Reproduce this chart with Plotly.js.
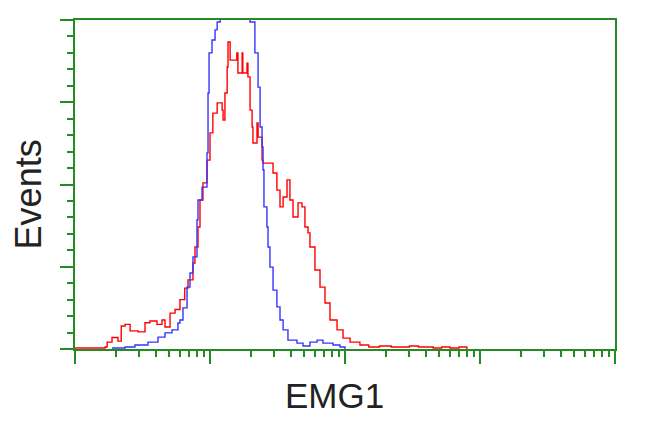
<!DOCTYPE html>
<html>
<head>
<meta charset="utf-8">
<script src="https://cdn.plot.ly/plotly-3.0.1.min.js"></script>
<style>html,body{margin:0;padding:0;background:#fff}#chart{width:650px;height:431px}</style>
</head>
<body>
<div id="chart"></div>
<script>
// Red histogram (EMG1 stained sample)
const redX = [1, 1.3, 1.67, 1.73, 1.88, 2.08, 2.2, 2.35, 2.56, 2.93, 3.3, 3.59, 4.05, 4.41, 4.64, 5.06, 5.51, 5.99, 6.5, 6.87, 7.48, 7.74, 8.15, 8.43, 8.87, 9.5, 10, 10.5, 11.3, 12.3, 12.5, 12.9, 13.4, 13.6, 14.1, 14.8, 15.8, 16.1, 17.3, 17.5, 18.8, 19.1, 19.8, 20.5, 20.8, 22.3, 22.7, 24.3, 24.7, 26.9, 29.3, 31.3, 33.0, 34.8, 37.2, 39.1, 41.2, 44.9, 48.0, 50.5, 53.2, 55.0, 59.9, 65.3, 71.1, 77.4, 87.3, 96.7, 109, 129, 150, 180, 220, 260, 300, 350, 400, 450, 520, 600, 700, 800];
const redY = [0.3, 0.3, 0.6, 2.1, 3.5, 2.4, 7.0, 7.5, 5.5, 5.2, 8.0, 8.5, 7.5, 8.8, 6.7, 10.9, 12.0, 15.0, 18.5, 21.0, 26.1, 31.0, 37.1, 45.3, 50.5, 57.4, 65.7, 71.7, 74.8, 72.6, 69.6, 77.8, 85.7, 93.3, 87.8, 87.8, 90.0, 83.9, 90.0, 83.9, 86.9, 82.7, 72.6, 67.5, 62.6, 68.7, 64.4, 57.4, 56.5, 56.5, 53.5, 48.3, 43.2, 46.2, 51.4, 45.3, 40.1, 44.4, 43.2, 37.1, 35.3, 31.0, 24.0, 18.8, 14.0, 8.8, 5.8, 3.3, 2.1, 1.2, 0.6, 0.9, 0.6, 0.6, 0.9, 0.6, 0.6, 0.3, 0.6, 0.3, 0.6, 0];

// Blue histogram (isotype control)
const blueX = [1.88, 2.35, 2.78, 3.47, 4.12, 4.64, 5.23, 5.79, 5.99, 6.31, 6.76, 7.11, 7.48, 8.01, 8.15, 8.73, 9.5, 9.67, 9.84, 10.35, 10.9, 11.3, 11.9, 12.9, 14.1, 15.3, 16.7, 18.2, 19.8, 20.8, 21.5, 22.7, 23.5, 24.3, 24.7, 25.1, 26.4, 26.9, 27.8, 29.3, 31.3, 33.0, 34.8, 37.8, 44.1, 48.9, 55.0, 62.1, 68.7, 81.5, 91.8, 100];
const blueY = [0.3, 0.6, 1.2, 2.1, 3.6, 4.9, 5.8, 7.9, 8.8, 12.5, 18.8, 23.1, 28.0, 39.2, 45.3, 49.2, 59.6, 77.8, 90.0, 93.9, 97.0, 99.4, 110, 118, 122, 120, 115, 108, 99.4, 99.4, 90.0, 79.6, 67.5, 61.4, 54.4, 43.2, 37.1, 31.0, 24.9, 17.9, 12.8, 8.8, 5.8, 2.7, 1.8, 0.9, 2.1, 2.7, 1.8, 1.2, 0.6, 0];

// Axis ticks and titles
const xMajorTicks = [1, 10, 100, 1000, 10000];
const xMinorTicks = [2,3,4,5,6,7,8,9,20,30,40,50,60,70,80,90,200,300,400,500,600,700,800,900,2000,3000,4000,5000,6000,7000,8000,9000];
const yMajorTicks = [0, 25, 50, 75, 100];
const xTitle = 'EMG1';
const yTitle = 'Events';

const GREEN = '#258c25';

const traces = [
  {x: redX, y: redY, type: 'scatter', mode: 'lines', line: {color: '#ff0000', width: 1.4, shape: 'hv'}, hoverinfo: 'skip'},
  {x: blueX, y: blueY, type: 'scatter', mode: 'lines', line: {color: '#3535ff', width: 1.4, shape: 'hv'}, hoverinfo: 'skip'}
];

const layout = {
  width: 650, height: 431,
  margin: {l: 75, r: 35, t: 20, b: 82},
  paper_bgcolor: '#fff', plot_bgcolor: '#fff',
  showlegend: false,
  font: {family: 'Liberation Sans, Arial, sans-serif', color: '#222'},
  xaxis: {
    type: 'log', range: [0, 4], showgrid: false, zeroline: false,
    showline: true, mirror: true, linecolor: GREEN, linewidth: 2,
    tickmode: 'array', tickvals: xMajorTicks, ticks: 'outside', ticklen: 13, tickwidth: 2, tickcolor: GREEN,
    showticklabels: false,
    minor: {tickmode: 'array', tickvals: xMinorTicks, ticks: 'outside', ticklen: 6, tickwidth: 2, tickcolor: GREEN, showgrid: false},
    automargin: false
  },
  yaxis: {
    range: [0, 100], showgrid: false, zeroline: false,
    showline: true, mirror: true, linecolor: GREEN, linewidth: 2,
    tickmode: 'array', tickvals: yMajorTicks, ticks: 'outside', ticklen: 13, tickwidth: 2, tickcolor: GREEN,
    showticklabels: false,
    minor: {dtick: 5, ticks: 'outside', ticklen: 6, tickwidth: 2, tickcolor: GREEN, showgrid: false},
    automargin: false
  },
  annotations: [
    {text: xTitle, xref: 'paper', yref: 'paper', x: 0.48, y: -0.14, xanchor: 'center', yanchor: 'middle',
     showarrow: false, font: {size: 35, color: '#222'}},
    {text: yTitle, xref: 'paper', yref: 'paper', x: -0.087, y: 0.47, xanchor: 'center', yanchor: 'middle',
     textangle: -90, showarrow: false, font: {size: 36, color: '#222'}}
  ]
};

Plotly.newPlot('chart', traces, layout, {staticPlot: true, displayModeBar: false});
</script>
</body>
</html>
